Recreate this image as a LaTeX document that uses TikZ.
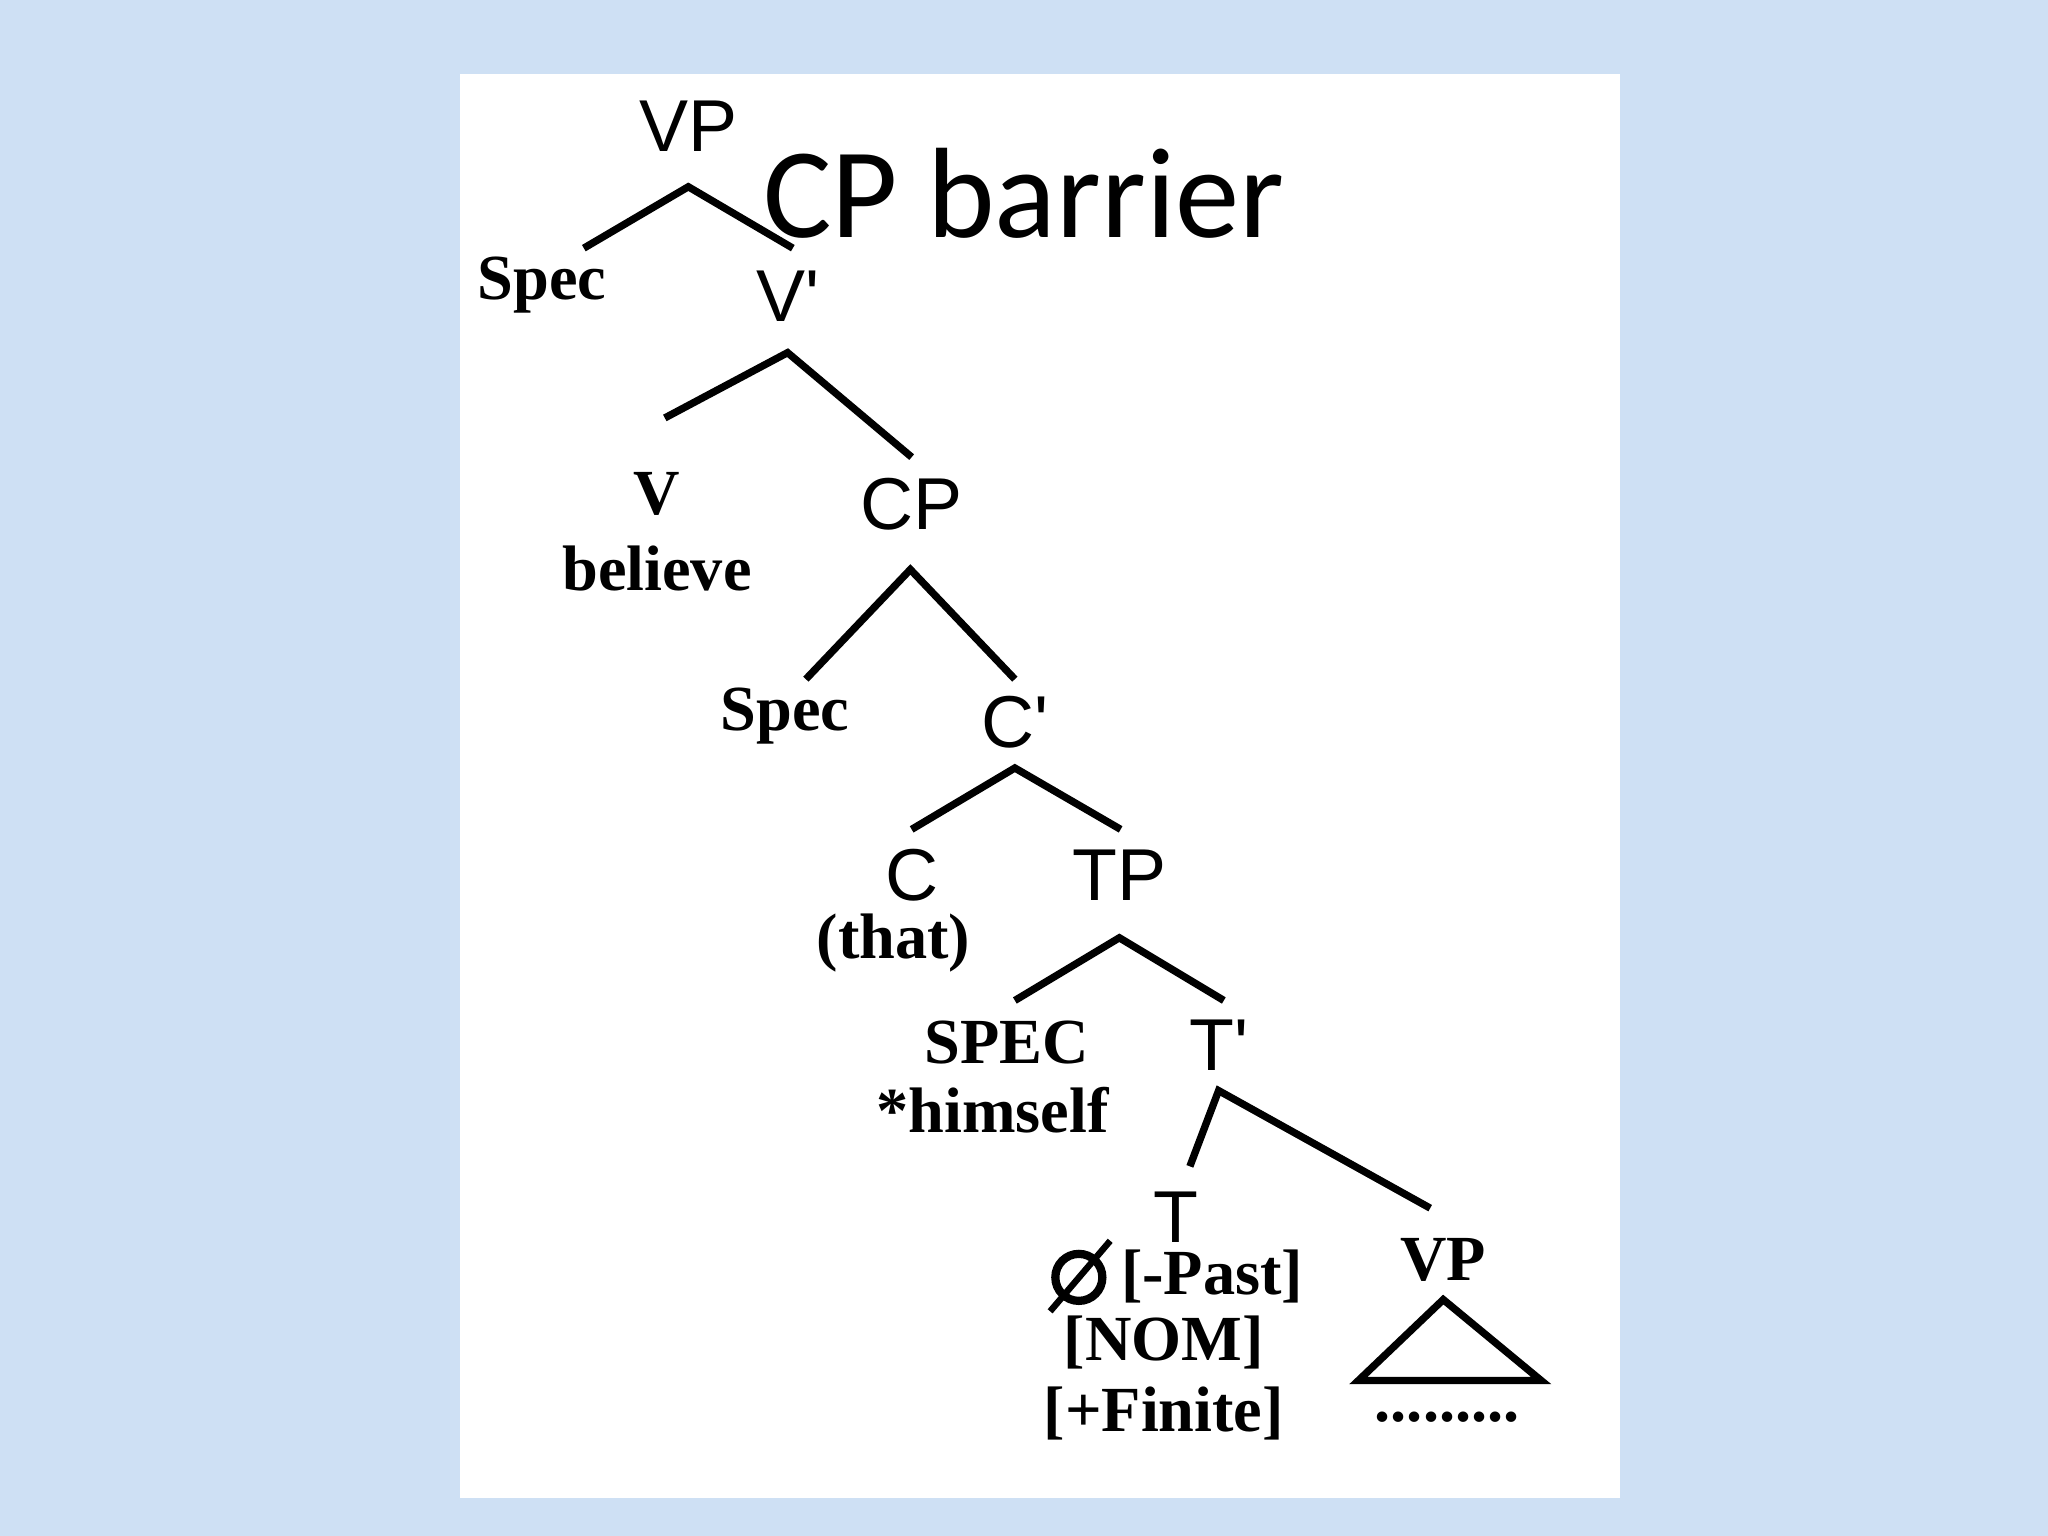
\documentclass[tikz,border=0pt]{standalone}
\usepackage{fontspec}
\setmainfont{Liberation Serif}
\setsansfont{Liberation Sans}
\newfontfamily\titlefont{Carlito}
\newfontfamily\primefont{Liberation Sans}
\newcommand{\prm}{{\primefont\symbol{39}}}
\begin{document}
\begin{tikzpicture}[x=0.01cm,y=-0.01cm,
  sn/.style={font=\sffamily\fontsize{16}{19}\selectfont,inner sep=0},
  bn/.style={font=\bfseries\fontsize{14}{16}\selectfont,inner sep=0,align=center},
  br/.style={line width=1.6pt}]
\definecolor{bgblue}{RGB}{206,224,244}
\fill[bgblue] (0,0) rectangle (1568,1176);
\useasboundingbox (0,0) rectangle (1568,1176);
\fill[white] (352,57) rectangle (1240,1147);
\node[sn] (vp) at (527,97) {VP};
\node[inner sep=0,font=\titlefont\fontsize{28}{32}\selectfont] (title) at (784,148) {CP barrier};
\coordinate (vpt) at (527,143);
\coordinate (vpl) at (447,190);
\coordinate (vpr) at (607,190);
\draw[br] (vpl) -- (vpt) -- (vpr);
\node[bn] (spec1) at (415,218) {Spec};
\node[sn] (vbar) at (603,227) {V\prm};
\coordinate (vbt) at (603,270);
\coordinate (vbl) at (509,320);
\coordinate (vbr) at (698,350);
\draw[br] (vbl) -- (vbt) -- (vbr);
\node[bn] (v) at (503,378) {V};
\node[bn] (believe) at (503,435) {believe};
\node[sn] (cp) at (698,386) {CP};
\coordinate (cpt) at (697,436);
\coordinate (cpl) at (617,520);
\coordinate (cpr) at (777,520);
\draw[br] (cpl) -- (cpt) -- (cpr);
\node[bn] (spec2) at (601,548) {Spec};
\node[sn] (cbar) at (777,553) {C\prm};
\coordinate (cbt) at (777,588);
\coordinate (cbl) at (698,635);
\coordinate (cbr) at (858,635);
\draw[br] (cbl) -- (cbt) -- (cbr);
\node[sn] (c) at (698,670) {C};
\node[bn] (that) at (684,722) {(that)};
\node[sn] (tp) at (857,670) {TP};
\coordinate (tpt) at (857,718);
\coordinate (tpl) at (777,766);
\coordinate (tpr) at (937,766);
\draw[br] (tpl) -- (tpt) -- (tpr);
\node[bn] (specT) at (771,798) {SPEC};
\node[bn] (himself) at (760,850) {*himself};
\node[sn] (tbar) at (933,800) {T\prm};
\coordinate (tbt) at (933,835);
\coordinate (tbl) at (911,893);
\coordinate (tbr) at (1095,925);
\draw[br] (tbl) -- (tbt) -- (tbr);
\node[sn] (t) at (900,932) {T};
\draw[line width=1.8pt] (826,978) circle (18);
\draw[line width=1.4pt] (804,1004) -- (850,950);
\node[bn] (past) at (928,977) {[-Past]};
\node[bn] (nom) at (891,1028) {[NOM]};
\node[bn] (fin) at (891,1082) {[+Finite]};
\node[bn] (vp2) at (1105,965) {VP};
\coordinate (tra) at (1105,995);
\coordinate (trb) at (1040,1057);
\coordinate (trc) at (1180,1057);
\draw[br] (tra) -- (trb) -- (trc) -- cycle;
\node[bn] (dots) at (1108,1085) {.........};
\end{tikzpicture}
\end{document}
